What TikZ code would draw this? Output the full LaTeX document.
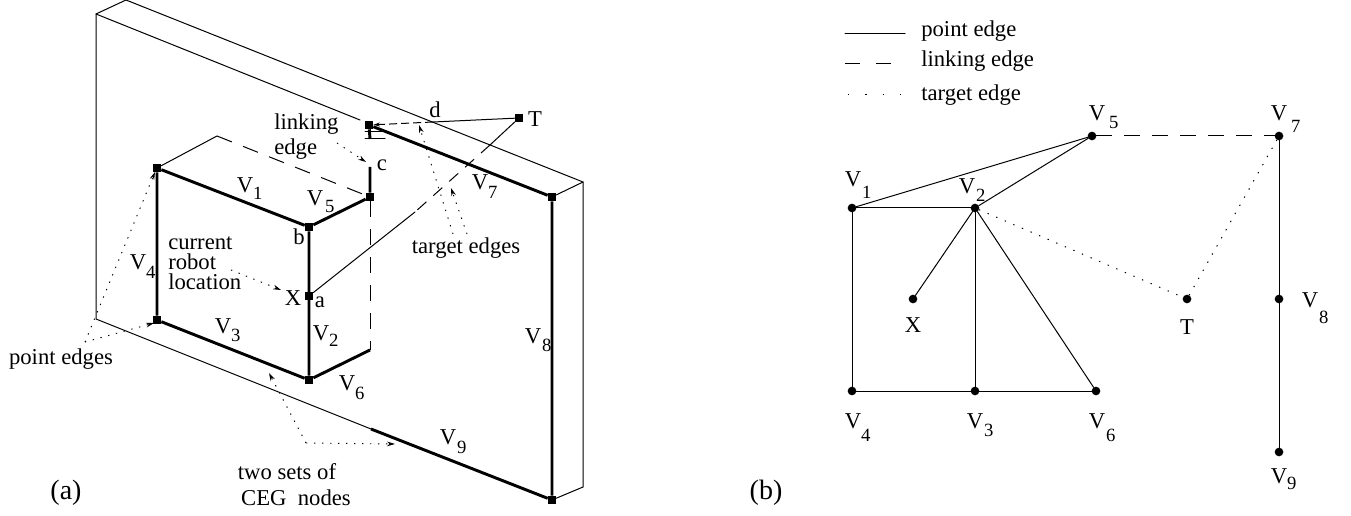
\documentclass[tikz,border=0pt]{standalone}
\usepackage{fontspec}
\setmainfont{Liberation Serif}
\usetikzlibrary{arrows.meta}
\newdimen\pxu \pxu=.75pt
% \Vs{digit}{dx}{dy}: a V with its subscript set off by dx, dy pixels; the node is centred on the V
\newcommand{\Vs}[3]{V\rlap{\kern2\pxu\kern#2\pxu\smash{\raisebox{-#3\pxu}{\fontsize{14}{14}\selectfont #1}}}}
\tikzset{
  thinl/.style={line width=.75pt,line cap=round},
  thickl/.style={line width=2.2pt},
  dashl/.style={line width=.75pt,dash pattern=on 12pt off 9pt},
  dotl/.style={line width=.75pt,dash pattern=on 1pt off 6pt},
  ptr/.style={line width=.7pt,dash pattern=on 1pt off 5pt,-{Stealth[length=6pt,width=3.5pt]}},
  sq/.style={fill=black,minimum size=6.5pt,inner sep=0pt,outer sep=0pt,rectangle},
  dot/.style={fill=black,minimum size=6.5pt,inner sep=0pt,outer sep=0pt,circle},
  lab/.style={inner sep=0pt,font=\fontsize{17}{19}\selectfont,align=left},
  vlab/.style={inner sep=0pt,font=\fontsize{17}{19}\selectfont}
}
\begin{document}
\begin{tikzpicture}[x=.75pt,y=-.75pt]
\useasboundingbox (0,0) rectangle (1351,516);
% --- left: wall corners
\coordinate (wa) at (96,14);
\coordinate (wb) at (126,0);
\coordinate (wc) at (583,182);
\coordinate (wd) at (583,487);
\coordinate (we) at (96,319);
\coordinate (wf) at (371,429);
\coordinate (wg) at (360,120);
\coordinate (k1) at (217,136);
\coordinate (c) at (370,167);
\coordinate (v6e) at (370,350);
\coordinate (dp) at (433,122);
\coordinate (tm1) at (490,145);
\coordinate (tm2) at (415,212);
\coordinate (h1a) at (365,132); \coordinate (h1b) at (385,132);
\coordinate (h2a) at (365,139); \coordinate (h2b) at (385,139);
\coordinate (h3) at (370,139);
\node[sq] (n1) at (157,168) {};
\node[sq] (nb) at (309,227) {};
\node[sq] (nc) at (370,197) {};
\node[sq] (nx) at (309,296) {};
\node[sq] (n3) at (157,320) {};
\node[sq] (n6) at (309,380) {};
\node[sq] (n7) at (369,125) {};
\node[sq] (n8) at (552,197) {};
\node[sq] (n9) at (552,500) {};
\node[sq] (nt) at (519,118) {};
\draw[thinl] (wb) -- (wa) -- (we) -- (wf);
\draw[thinl] (wa) -- (wg);
\draw[thinl] (wb) -- (wc) -- (wd) -- (n9);
\draw[thinl] (wc) -- (n8);
\draw[thickl] (wf) -- (n9);
\draw[thickl] (n1) -- (nb) (nb) -- (nc) (nc) -- (c);
\draw[thickl] (n1) -- (n3) (n3) -- (n6) (nb) -- (n6) (n6) -- (v6e);
\draw[thickl] (n7) -- (n8) (n8) -- (n9);
\draw[thickl] (n7) -- (h3);
\draw[thinl] (h1a) -- (h1b) (h2a) -- (h2b);
\draw[thinl] (n1) -- (k1);
\draw[dashl] (k1) -- (nc);
\draw[dashl] (nc) -- (v6e);
\draw[thinl] (nt) -- (dp);
\draw[line width=.75pt,dash pattern=on 6pt off 3pt,-{Stealth[length=5pt,width=3pt]}] (dp) -- (n7);
\draw[thinl] (nt) -- (tm1);
\draw[line width=.75pt,dash pattern=on 9pt off 7pt] (tm1) -- (tm2);
\draw[thinl] (tm2) -- (nx);
% --- left: labels
\node[vlab] (lv1) at (245,185) {\Vs{1}{-2}{7}};
\node[vlab] (lv5) at (315,198) {\Vs{5}{0}{7}};
\node[vlab] (lv7) at (480,182) {\Vs{7}{-2}{9}};
\node[vlab] (lv4) at (138,262) {\Vs{4}{-2}{9}};
\node[vlab] (lv2) at (321,333) {\Vs{2}{-2}{6}};
\node[vlab] (lv3) at (223,326) {\Vs{3}{-2}{8}};
\node[vlab] (lv6) at (347,383) {\Vs{6}{-2}{9}};
\node[vlab] (lv8) at (533,336) {\Vs{8}{-1}{8}};
\node[vlab] (lv9) at (448,437) {\Vs{9}{-1}{9}};
\node[lab] (la) at (320,302) {a};
\node[lab] (lb) at (299,237) {b};
\node[lab] (lc) at (382,165) {c};
\node[lab] (ld) at (435,110) {d};
\node[lab] (lx) at (293,298) {X};
\node[lab] (lt) at (535,119) {T};
\node[lab,anchor=north west] (llink) at (274,114) {linking\\[-.5pt]edge};
\node[lab,anchor=north west] (lrobot) at (168,236) {current\\[-4pt]robot\\[-4pt]location};
\node[lab] (ltarget) at (466,248) {target edges};
\node[lab] (lpoint) at (61,359) {point edges};
\node[lab] (ltwo) at (287,472) {two sets of};
\node[lab] (lceg) at (296,498) {CEG\ \ nodes};
\node[lab] (lA) at (66,493) {\fontsize{21}{22}\selectfont (a)};
\node[lab] (lB) at (766,493) {\fontsize{21}{22}\selectfont (b)};
% --- left: pointers
\coordinate (p0) at (85,342);
\coordinate (p1) at (155,172);
\coordinate (p2) at (154,323);
\coordinate (r0) at (231,270);
\coordinate (r1) at (281,290);
\coordinate (s0) at (306,443);
\coordinate (s1) at (269,373);
\coordinate (s2) at (395,444);
\coordinate (t0) at (453,234);
\coordinate (t1) at (419,125);
\coordinate (t2) at (467,234);
\coordinate (t3) at (451,188);
\coordinate (l0) at (337,143);
\coordinate (l1) at (366,162);
\draw[ptr] (p0) -- (p1);
\draw[ptr] (p0) -- (p2);
\draw[ptr] (r0) -- (r1);
\draw[ptr] (s0) -- (s1);
\draw[ptr] (s0) -- (s2);
\draw[ptr] (t0) -- (t1);
\draw[ptr] (t2) -- (t3);
\draw[ptr] (l0) -- (l1);
% --- right: legend
\coordinate (a1) at (845,33.4); \coordinate (a2) at (905,33.4);
\coordinate (b1) at (845,63.4); \coordinate (b2) at (905,63.4);
\coordinate (d1) at (848,95); \coordinate (d2) at (905,95);
\draw[thinl] (a1) -- (a2);
\draw[line width=.75pt,dash pattern=on 11.5pt off 11.5pt] (b1) -- (b2);
\draw[line width=.75pt,dash pattern=on 1pt off 12pt] (d1) -- (d2);
\node[lab,anchor=west] (la1) at (921,31) {point edge};
\node[lab,anchor=west] (la2) at (921,61) {linking edge};
\node[lab,anchor=west] (la3) at (921,95) {target edge};
% --- right: graph
\node[dot] (V1) at (852,208) {};
\node[dot] (V2) at (975,208) {};
\node[dot] (V3) at (975,391) {};
\node[dot] (V4) at (852,391) {};
\node[dot] (V5) at (1092,136) {};
\node[dot] (V6) at (1096,391) {};
\node[dot] (V7) at (1279,136) {};
\node[dot] (V8) at (1279,299) {};
\node[dot] (V9) at (1279,452) {};
\node[dot] (X) at (913,299) {};
\node[dot] (T) at (1187,299) {};
\draw[thinl] (V1) -- (V5);
\draw[thinl] (V2) -- (V5);
\draw[thinl] (V1) -- (V2);
\draw[thinl] (V1) -- (V4);
\draw[thinl] (V4) -- (V3);
\draw[thinl] (V3) -- (V6);
\draw[thinl] (V2) -- (V3);
\draw[thinl] (V2) -- (V6);
\draw[thinl] (V2) -- (X);
\draw[thinl] (V7) -- (V8);
\draw[thinl] (V8) -- (V9);
\draw[dashl] (V5) -- (V7);
\draw[dotl] (V2) -- (T);
\draw[dotl] (T) -- (V7);
\node[vlab] (r1) at (853,179) {\Vs{1}{-1}{12}};
\node[vlab] (r2) at (967,186) {\Vs{2}{-1}{8}};
\node[vlab] (r5) at (1097,113) {\Vs{5}{2}{8}};
\node[vlab] (r7) at (1279,113) {\Vs{7}{2}{12}};
\node[vlab] (r8) at (1310,300) {\Vs{8}{-1}{16}};
\node[vlab] (r4) at (853,421) {\Vs{4}{-2}{13}};
\node[vlab] (r3) at (975,421) {\Vs{3}{-1}{8}};
\node[vlab] (r6) at (1097,421) {\Vs{6}{-1}{13}};
\node[vlab] (r9) at (1279,476) {\Vs{9}{-2}{6}};
\node[lab] (rx) at (913,325) {X};
\node[lab] (rt) at (1187,327) {T};
\end{tikzpicture}
\end{document}
